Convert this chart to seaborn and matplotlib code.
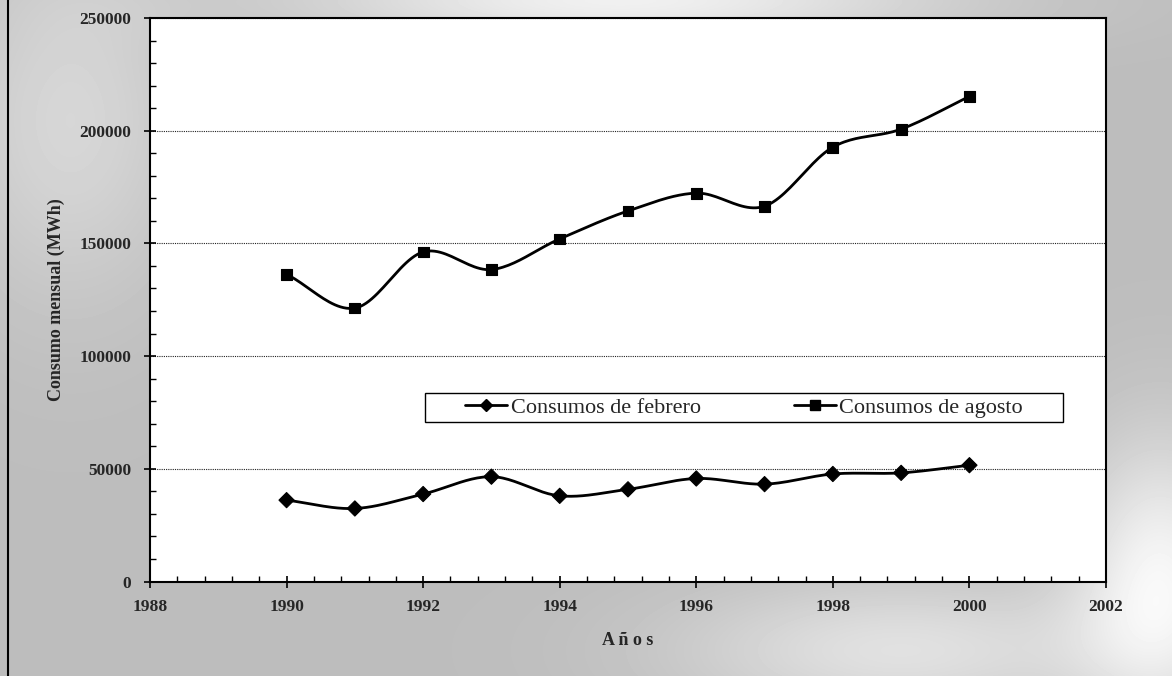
import numpy as np
import pandas as pd
import matplotlib
matplotlib.use("Agg")
import matplotlib.pyplot as plt
from matplotlib.lines import Line2D
from matplotlib.patches import Rectangle
from matplotlib.ticker import MultipleLocator
import seaborn as sns

# Monthly electricity consumption (MWh), February vs August, 1990-2000
years = [1990, 1991, 1992, 1993, 1994, 1995, 1996, 1997, 1998, 1999, 2000]
febrero = [36100, 32400, 38800, 46500, 38000, 40900, 45700, 43200, 47700, 48200, 51600]
agosto = [136300, 121300, 146200, 138400, 152000, 164400, 172300, 166500, 192700, 200700, 215200]

serie_feb = "Consumos de febrero"
serie_ago = "Consumos de agosto"

W, H = 1172, 676


def smooth_curve(x, y, steps=24):
    """Catmull-Rom spline through the data points (spreadsheet-style smoothed line)."""
    x = np.asarray(x, float)
    y = np.asarray(y, float)
    px = np.concatenate([[2 * x[0] - x[1]], x, [2 * x[-1] - x[-2]]])
    py = np.concatenate([[2 * y[0] - y[1]], y, [2 * y[-1] - y[-2]]])
    xs, ys = [], []
    for i in range(1, len(px) - 2):
        t = np.linspace(0, 1, steps, endpoint=(i == len(px) - 3))
        t2, t3 = t * t, t * t * t
        for p, out in ((px, xs), (py, ys)):
            p0, p1, p2, p3 = p[i - 1], p[i], p[i + 1], p[i + 2]
            out.extend(0.5 * (2 * p1 + (-p0 + p2) * t
                              + (2 * p0 - 5 * p1 + 4 * p2 - p3) * t2
                              + (-p0 + 3 * p1 - 3 * p2 + p3) * t3))
    return np.array(xs), np.array(ys)


sns.set_theme(style="white")
plt.rcParams["font.family"] = ["Liberation Serif", "DejaVu Serif"]

fig = plt.figure(figsize=(W / 100, H / 100), dpi=100)

# shaded page background, lighter towards the top and lower right
bg = fig.add_axes([0, 0, 1, 1], zorder=-1)
gx, gy = np.meshgrid(np.arange(W), np.arange(H))
shade = (0.74
         + 0.22 * np.exp(-((gx - 1160) ** 2 / 90 ** 2 + (gy - 580) ** 2 / 140 ** 2))
         + 0.20 * np.exp(-((gx - 620) ** 2 / 320 ** 2 + (gy - 0) ** 2 / 45 ** 2))
         + 0.10 * np.exp(-((gx - 70) ** 2 / 120 ** 2 + (gy - 120) ** 2 / 180 ** 2))
         + 0.14 * np.exp(-((gx - 900) ** 2 / 220 ** 2 + (gy - 650) ** 2 / 70 ** 2)))
shade = np.clip(shade, 0, 1)
bg.imshow(shade, cmap="gray", vmin=0, vmax=1, aspect="auto",
          interpolation="bilinear", extent=(0, W, H, 0))
bg.axvline(8, color="black", linewidth=1.5)
bg.set_xlim(0, W)
bg.set_ylim(H, 0)
bg.axis("off")

ax = fig.add_axes([150 / W, 1 - 581.5 / H, (1106 - 150) / W, (581.5 - 18) / H], zorder=1)
ax.set_facecolor("white")

points = pd.DataFrame({
    "Año": years * 2,
    "Consumo": febrero + agosto,
    "Serie": [serie_feb] * len(years) + [serie_ago] * len(years),
})

curves = []
for name, vals in ((serie_feb, febrero), (serie_ago, agosto)):
    cx, cy = smooth_curve(years, vals)
    curves.append(pd.DataFrame({"Año": cx, "Consumo": cy, "Serie": name}))
curves = pd.concat(curves, ignore_index=True)

sns.lineplot(data=curves, x="Año", y="Consumo", units="Serie", estimator=None,
             sort=False, color="black", linewidth=2.0, ax=ax, legend=False)
sns.scatterplot(data=points, x="Año", y="Consumo", style="Serie",
                markers={serie_feb: "D", serie_ago: "s"},
                s=60, color="black", edgecolor="black",
                linewidth=0.8, ax=ax, legend=False, zorder=5)

ax.set_xlim(1988, 2002)
ax.set_ylim(0, 250000)
ax.xaxis.set_major_locator(MultipleLocator(2))
ax.xaxis.set_minor_locator(MultipleLocator(0.4))
ax.yaxis.set_major_locator(MultipleLocator(50000))
ax.yaxis.set_minor_locator(MultipleLocator(10000))
ax.tick_params(axis="both", which="major", direction="inout", length=9, width=1.2,
               color="black", labelsize=12.5)
ax.tick_params(axis="both", which="minor", direction="in", length=4, width=1.0,
               color="black")
ax.tick_params(axis="y", which="major", pad=9)
ax.tick_params(axis="x", which="major", pad=8)
ax.tick_params(bottom=True, left=True, which="both")
for lbl in ax.get_xticklabels() + ax.get_yticklabels():
    lbl.set_fontweight("bold")

ax.grid(axis="y", which="major", linestyle=(0, (1, 1)), color="#222222", linewidth=0.8)
ax.grid(axis="x", visible=False)
for sp in ax.spines.values():
    sp.set_visible(True)
    sp.set_color("black")
    sp.set_linewidth(1.5)

ax.set_xlabel("A ñ o s", fontsize=13, fontweight="bold", labelpad=12)
ax.set_ylabel("Consumo mensual (MWh)", fontsize=13, fontweight="bold", labelpad=10)

# legend: boxed, single row
handles = [
    Line2D([], [], color="black", linewidth=2, marker="D", markersize=6,
           markerfacecolor="black"),
    Line2D([], [], color="black", linewidth=2, marker="s", markersize=7,
           markerfacecolor="black"),
]
leg = ax.legend(handles, [serie_feb, serie_ago], ncol=2, loc="center",
                bbox_to_anchor=((744 - 150) / 956, (581.5 - 407.5) / 563.5),
                frameon=False, fontsize=16, handlelength=1.9, handletextpad=0.15,
                columnspacing=4.2, borderpad=0.2, borderaxespad=0)
box = Rectangle(((425 - 150) / 956, (581.5 - 422) / 563.5), (1063 - 425) / 956,
                29 / 563.5, transform=ax.transAxes, facecolor="white",
                edgecolor="black", linewidth=1.0, zorder=4)
ax.add_patch(box)
leg.set_zorder(6)

fig.savefig("out.png", dpi=100)
